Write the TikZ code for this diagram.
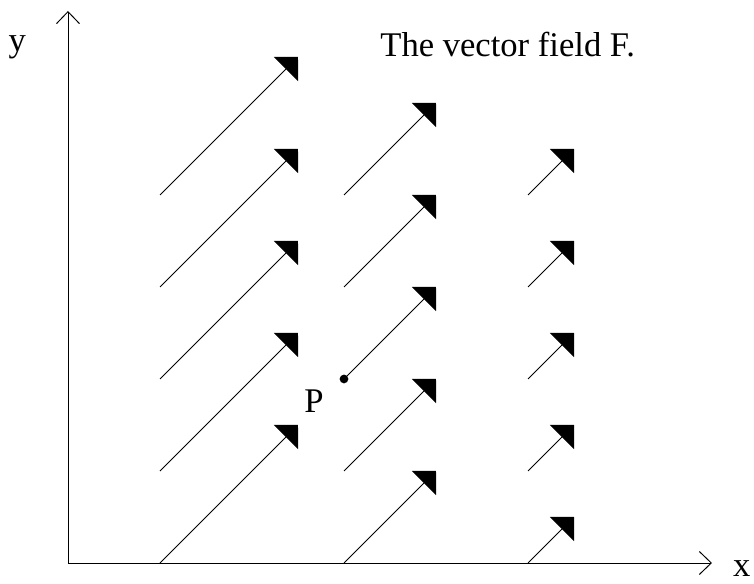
\documentclass[tikz,border=0pt]{standalone}
\usepackage{fontspec}
\setmainfont{Liberation Serif}
\usepackage{tikz}
\usetikzlibrary{arrows.meta}

\begin{document}
\begin{tikzpicture}[line width=0.6pt,
  every node/.style={font=\fontsize{21.4pt}{25pt}\selectfont,inner sep=0pt},
  fieldarrow/.style={-{Triangle[length=0.37cm,width=0.74cm]}},
  axisarrow/.style={-{Straight Barb[length=0.26cm,width=0.5cm]}}]
\useasboundingbox (-1.478,-0.435) rectangle (14.913,12.239);
% axes
\coordinate (O) at (0,0);
\coordinate (xend) at (14,0);
\coordinate (yend) at (0,12);
\draw[axisarrow] (O)--(xend);
\draw[axisarrow] (O)--(yend);
\node[anchor=base west] (xlab) at (14.45,-0.3) {x};
\node[anchor=base] (ylab) at (-1.1,11.11) {y};
\node[anchor=base west] (title) at (6.78,11.02) {The vector field F.};
% the field, shorter to the right
\foreach \c/\l in {2/3,6/2,10/1}
  \foreach \r in {0,2,4,6,8}
    \draw[fieldarrow] (\c,\r) -- ++(\l,\l);
\coordinate (P) at (6,4);
\fill (P) circle (0.095);
\node (Plab) at (5.35,3.52) {P};
\end{tikzpicture}
\end{document}
